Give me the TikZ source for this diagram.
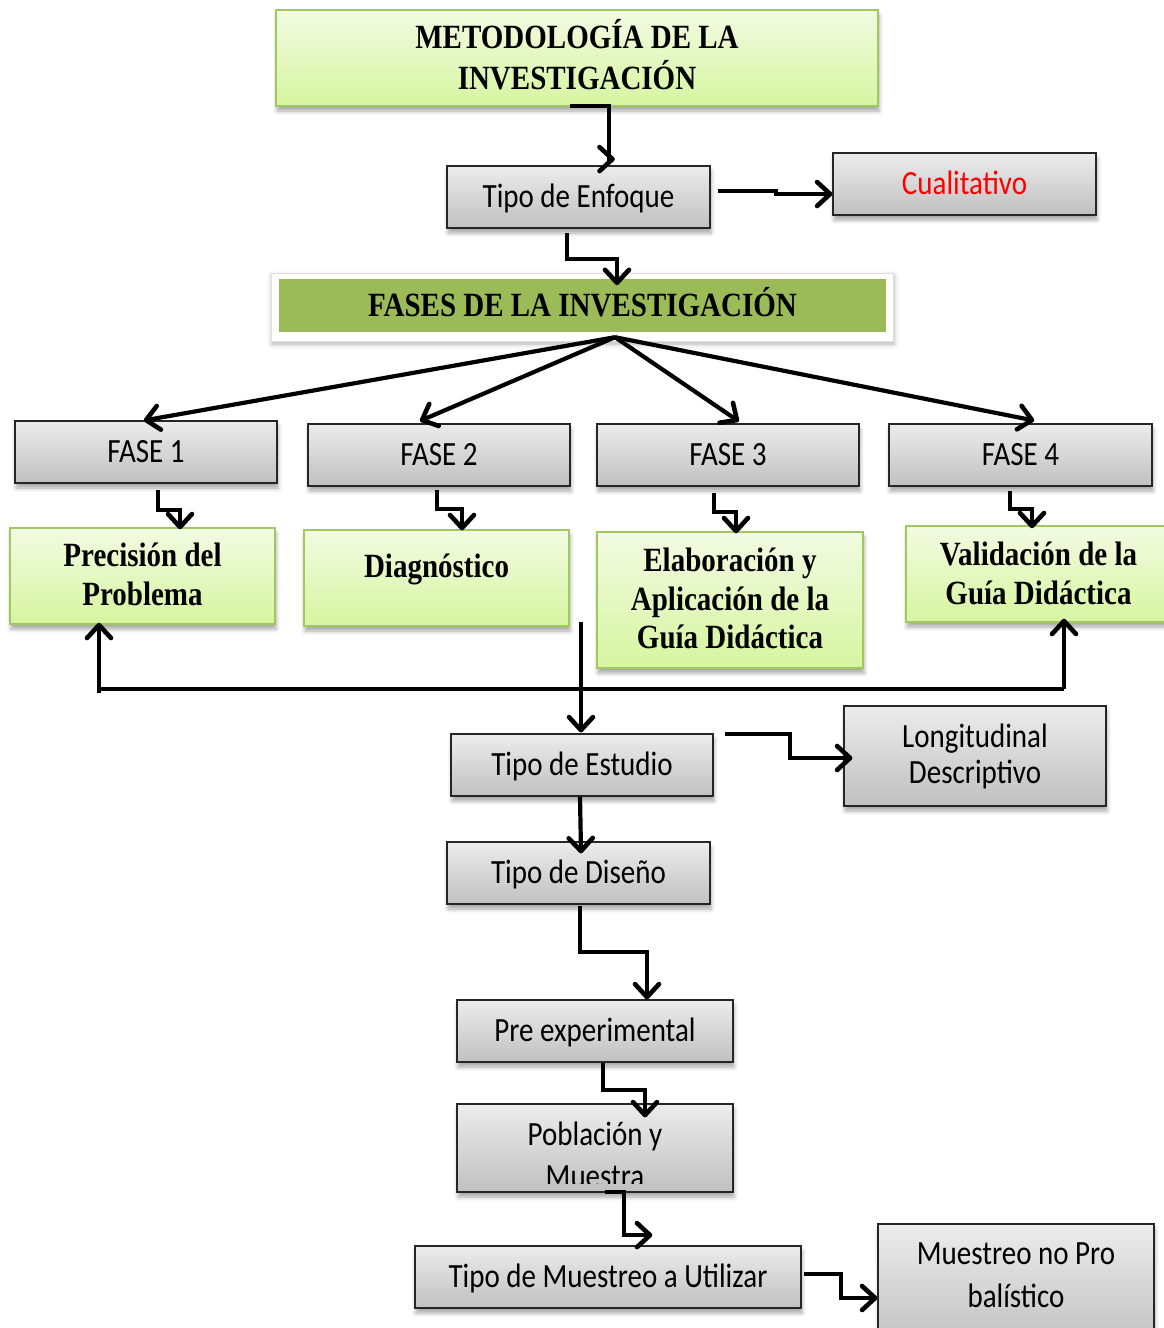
\documentclass[tikz,border=0pt]{standalone}
\usepackage{fontspec}
\usepackage{graphicx}
\setmainfont{Liberation Serif}
\newfontfamily\calib{Carlito}
\usetikzlibrary{decorations.markings,shadows.blur,calc}

\definecolor{grayT}{RGB}{236,236,236}
\definecolor{grayB}{RGB}{192,192,192}
\definecolor{greenT}{RGB}{242,251,226}
\definecolor{greenB}{RGB}{214,245,160}
\definecolor{greenL}{RGB}{160,200,95}
\definecolor{oliveG}{RGB}{155,187,89}

% vertically stretched, centred text block, set a little low in its box
\newcommand\vtxt[2][33]{\raisebox{-2.5pt}[\height][\depth]{\scalebox{1}[1.17]{\fontsize{29pt}{#1pt}\selectfont\begin{tabular}{@{}c@{}}#2\end{tabular}}}}

\tikzset{
  box/.style={rectangle, inner sep=0pt, align=center},
  sz/.style 2 args={minimum width=#1pt, minimum height=#2pt},
  softshadow/.style={blur shadow={shadow xshift=1pt, shadow yshift=-5pt, shadow blur radius=4pt, shadow opacity=35}},
  greybox/.style={box, draw=black!85, line width=1.8pt, top color=grayT, bottom color=grayB, font=\calib, softshadow},
  greenbox/.style={box, draw=greenL, line width=2pt, top color=greenT, bottom color=greenB, font=\bfseries, softshadow},
  lnk/.style={line width=4.2pt, line join=miter},
  % open "V" head, stroked as thick as the line itself
  arr/.style={lnk, postaction={decorate, decoration={markings,
      mark=at position 1 with {\draw[line width=4.6pt, line cap=round, line join=round]
        (-13pt,12pt) -- (0pt,0pt) -- (-13pt,-12pt);}}}},
}

\begin{document}
\begin{tikzpicture}[x=1pt,y=-1pt]
\useasboundingbox (0,0) rectangle (1164,1328);

% --- top part ---
\node[greenbox, sz={602}{96}] (meta) at (577,58) {\vtxt[33]{METODOLOGÍA DE LA\\INVESTIGACIÓN}};
\node[greybox, sz={263}{62}] (enfoque) at (578.5,197) {\vtxt{Tipo de Enfoque}};
\node[greybox, sz={263}{62}, text=red] (cuali) at (964.5,184) {\vtxt{Cualitativo}};

\node[box, sz={622}{68}, fill=white, draw=black!12, line width=1pt,
      blur shadow={shadow xshift=1pt, shadow yshift=-3pt, shadow blur radius=5pt, shadow opacity=30}] (fasesout) at (582,307) {};
\node[box, sz={607}{53}, fill=oliveG, font=\bfseries] (fasesin) at (582.5,305.5) {\vtxt{FASES DE LA INVESTIGACIÓN}};

% --- phases ---
\node[greybox, sz={262}{62}] (f1) at (146,452) {\vtxt{FASE 1}};
\node[greybox, sz={262}{62}] (f2) at (439,455) {\vtxt{FASE 2}};
\node[greybox, sz={262}{62}] (f3) at (728,455) {\vtxt{FASE 3}};
\node[greybox, sz={263}{62}] (f4) at (1020.5,455) {\vtxt{FASE 4}};

\node[greenbox, sz={265}{96}] (prec) at (142.5,576) {\vtxt{Precisión del\\Problema}};
\node[greenbox, sz={265}{96}] (diag) at (436.5,578) {};
\node[font=\bfseries] (diagtxt) at (436.5,567) {\vtxt{Diagnóstico}};
\node[greenbox, sz={266}{136}] (elab) at (730,600) {\vtxt{Elaboración y\\Aplicación de la\\Guía Didáctica}};
\node[greenbox, sz={270}{96}] (valid) at (1041,574) {};
\node[font=\bfseries] (validtxt) at (1038.5,575) {\vtxt{Validación de la\\Guía Didáctica}};

% --- study design ---
\node[greybox, sz={262}{62}] (estudio) at (582,765) {\vtxt{Tipo de Estudio}};
\node[greybox, sz={262}{100}] (longi) at (975,756) {\vtxt[30.5]{Longitudinal\\Descriptivo}};
\node[greybox, sz={263}{62}] (diseno) at (578.5,873) {\vtxt{Tipo de Diseño}};
\node[greybox, sz={276}{62}] (pre) at (595,1031) {\vtxt{Pre experimental}};
\node[greybox, sz={276}{88}] (pobl) at (595,1148) {};
\begin{scope}
  \clip (457,1104) rectangle (733,1183);
  \node[font=\calib] (pobltxt) at (595,1156) {\vtxt[36]{Población y\\Muestra}};
\end{scope}
\node[greybox, sz={386}{62}] (muestreo) at (608,1277) {\vtxt{Tipo de Muestreo a Utilizar}};
\node[greybox, sz={276}{124}] (nopro) at (1016,1286) {};
\node[font=\calib] (noprotxt) at (1016,1275) {\vtxt[36]{Muestreo no Pro\\balístico}};

% --- connectors ---
\draw[lnk] ($(meta.south)+(-7,-1)$) -| ($(enfoque.north)+(30.5,-6)$);
\draw[arr] ($(enfoque.north)+(28,-6)$) -- ($(enfoque.north)+(34,-6)$);
\draw[arr] ($(enfoque.east)+(7,-6)$) -- ++(58,0) -- ++(0,3) -- ($(cuali.west)+(-2,10)$);
\draw[arr] ($(enfoque.south)+(-11.5,4)$) -- ++(0,26) -| ($(fasesin.north)+(34.5,4)$);

\coordinate (hub) at ($(fasesin.south)+(32.5,5)$);
\draw[arr] (hub) -- (f1.north);
\draw[arr] (hub) -- ($(f2.north)+(-17,-3)$);
\draw[arr] (hub) -- ($(f3.north)+(9,-3)$);
\draw[arr] (hub) -- ($(f4.north)+(11.5,-3)$);

\draw[arr] ($(f1.south)+(12,6)$) |- ($(prec.north)+(37.5,-17)$) -- (prec.north -| 180,0);
\draw[arr] ($(f2.south)+(-2,3)$) |- ($(diag.north)+(25.5,-20)$) -- ($(diag.north)+(25.5,-1)$);
\draw[arr] ($(f3.south)+(-14,6)$) |- ($(elab.north)+(6,-19)$) -- (elab.north -| 736,0);
\draw[arr] ($(f4.south)+(-10.5,4)$) |- ($(valid.north)+(-9,-16)$) -- ($(valid.north)+(-9,1)$);

% feedback line under the phases
\coordinate (fbL) at (99,693);
\coordinate (fbR) at (1064,689);
\coordinate (fbM) at (581,622);
\draw[lnk] (fbL |- fbR) -- (fbR);
\draw[arr] (fbL) -- (fbL |- prec.south);
\draw[arr] (fbR) -- ($(fbR |- valid.south)+(0,-2)$);
\draw[arr] (fbM) -- ($(fbM |- estudio.north)+(0,-3)$);

\draw[arr] ($(estudio.east)+(11,-31)$) -- ++(65,0) |- ($(longi.west)+(7,2)$);
\draw[arr] ($(estudio.south)+(-2,0)$) -- ($(diseno.north)+(2.5,10)$);
\draw[arr] ($(diseno.south)+(1.5,1)$) |- ($(pre.north)+(52,-47)$) -- ($(pre.north)+(52,-2)$);
\draw[arr] ($(pre.south)+(8,0)$) |- ($(pobl.north)+(50,-13)$) -- ($(pobl.north)+(50,12)$);
\draw[arr] ($(pobl.south)+(10,-1)$) -- ++(19,0) |- ($(muestreo.north)+(42,-10)$);
\draw[arr] ($(muestreo.east)+(2,-3)$) -- ++(37,0) |- ($(nopro.west)+(-2,12)$);
\end{tikzpicture}
\end{document}
